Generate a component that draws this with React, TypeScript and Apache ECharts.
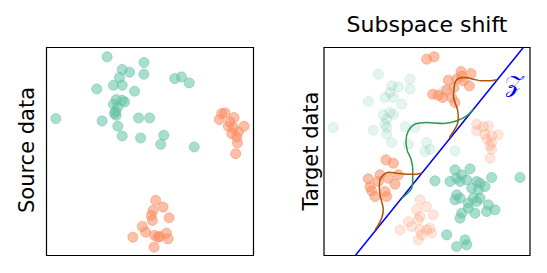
import React, { useEffect, useRef } from "react";
import * as echarts from "echarts";

// ---- Left panel: source data (arbitrary embedding units) ----
const sourceTeal: [number, number][] = [
  [181, 595], [291, 578], [226, 557], [248, 549], [291, 543], [218, 533], [200, 510], [226, 510],
  [150, 499], [263, 492], [383, 530], [403, 535], [426, 517], [208, 467], [226, 465], [200, 453],
  [213, 445], [206, 432], [208, 420], [28, 410], [166, 403], [275, 412], [308, 412], [213, 387],
  [226, 358], [281, 352], [350, 360], [341, 333], [441, 325], [233, 460], [203, 425],
];
const sourceOrange: [number, number][] = [
  [523, 425], [533, 427], [516, 407], [560, 413], [543, 387], [558, 383], [590, 387], [553, 365],
  [568, 355], [570, 337], [565, 305], [573, 370], [548, 400],
  [326, 165], [348, 145], [318, 135], [366, 113], [316, 105], [286, 87], [296, 70], [258, 55],
  [323, 60], [338, 57], [358, 67], [363, 50], [321, 25], [333, 55], [313, 120],
];

// ---- Right panel: target data ----
const targetOrange: [number, number][] = [
  [308, 589], [330, 596], [411, 552], [441, 546], [373, 526], [398, 529], [418, 524], [436, 509],
  [390, 504], [326, 484], [356, 474], [383, 474], [393, 459], [368, 496], [413, 538], [343, 481],
  [186, 287], [208, 277], [133, 230], [168, 242], [193, 232], [223, 242], [213, 214], [143, 194],
  [153, 177], [183, 192], [188, 177], [163, 222], [138, 206],
];
const targetOrangeFaint: [number, number][] = [
  [458, 394], [478, 386], [493, 389], [458, 374], [483, 364], [503, 359], [523, 362], [488, 349],
  [503, 339], [498, 329], [503, 319], [498, 292],
  [288, 167], [308, 147], [278, 137], [328, 122], [288, 117], [253, 102], [283, 107], [263, 87],
  [228, 77], [288, 77], [308, 77], [318, 82], [323, 67], [293, 62], [283, 47],
];
const targetTealFaint: [number, number][] = [
  [163, 544], [258, 529], [203, 509], [223, 506], [258, 499], [198, 489], [183, 474], [208, 474],
  [133, 462], [233, 454], [178, 422], [198, 429], [208, 424], [188, 409], [183, 394], [188, 384],
  [28, 384], [148, 376], [243, 386], [273, 384], [188, 364], [203, 339], [253, 334], [308, 339],
  [318, 319], [358, 494], [393, 314], [303, 312],
];
const targetTeal: [number, number][] = [
  [333, 224], [393, 257], [438, 260], [413, 242], [398, 232], [378, 222], [408, 222], [428, 227],
  [458, 222], [468, 217], [483, 207], [503, 234], [588, 234], [463, 197], [443, 202], [398, 182],
  [408, 172], [393, 167], [448, 172], [468, 172], [458, 162], [433, 157], [493, 152], [513, 137],
  [488, 132], [453, 127], [413, 127], [408, 112], [433, 142], [368, 62], [423, 47], [428, 32],
  [398, 27],
];

// Shared subspace Z (line) and the density profiles projected onto it
const subspaceZ: [number, number][] = [[94, 0], [598, 624]];
const densityUpper: [number, number][] = [
  [376, 354], [388, 372], [400, 394], [403, 414], [400, 439], [393, 459], [388, 479], [390, 499],
  [393, 519], [403, 531], [423, 534], [448, 529], [473, 524], [498, 524], [518, 527],
];
const densityLower: [number, number][] = [
  [153, 77], [163, 92], [173, 112], [178, 137], [173, 162], [168, 182], [166, 207], [168, 227],
  [178, 242], [193, 250], [218, 247], [248, 244], [273, 244], [293, 247],
];
const densityTeal: [number, number][] = [
  [448, 439], [428, 419], [398, 404], [358, 396], [308, 399], [273, 394], [253, 374], [246, 344],
  [250, 314], [260, 292], [266, 262], [266, 222], [262, 200], [250, 186], [234, 172],
];

const TEAL = "102,194,165";
const ORANGE = "252,141,98";

function scatter(data: [number, number][], rgb: string, alpha: number, idx: number, z: number) {
  return {
    type: "scatter",
    xAxisIndex: idx,
    yAxisIndex: idx,
    data,
    symbol: "circle",
    symbolSize: 10,
    z,
    silent: true,
    itemStyle: {
      color: `rgba(${rgb},${alpha})`,
      borderColor: `rgba(${rgb},${alpha})`,
      borderWidth: 1,
    },
  };
}

function curve(data: [number, number][], color: string, z: number, smooth: number | boolean) {
  return {
    type: "line",
    xAxisIndex: 1,
    yAxisIndex: 1,
    data,
    showSymbol: false,
    symbol: "none",
    smooth,
    z,
    silent: true,
    clip: true,
    lineStyle: { color, width: 1.5 },
  };
}

export default function App() {
  const ref = useRef<HTMLDivElement>(null);
  useEffect(() => {
    document.body.style.margin = "0";
    if (!ref.current) return;
    const chart = echarts.init(ref.current, undefined, { renderer: "svg" });
    const font = "DejaVu Sans";
    chart.setOption({
      animation: false,
      backgroundColor: "#fff",
      grid: [
        { left: 46.5, top: 47.5, width: 207, height: 208, show: true, borderColor: "#000", borderWidth: 1.2, backgroundColor: "transparent" },
        { left: 324, top: 47.5, width: 206, height: 208, show: true, borderColor: "#000", borderWidth: 1.2, backgroundColor: "transparent" },
      ],
      xAxis: [
        { type: "value", gridIndex: 0, min: 0, max: 618, show: false },
        { type: "value", gridIndex: 1, min: 0, max: 618, show: false },
      ],
      yAxis: [
        { type: "value", gridIndex: 0, min: 0, max: 623, show: false },
        { type: "value", gridIndex: 1, min: 0, max: 624, show: false },
      ],
      series: [
        scatter(sourceTeal, TEAL, 0.7, 0, 2),
        scatter(sourceOrange, ORANGE, 0.7, 0, 2),
        scatter(targetTealFaint, TEAL, 0.22, 1, 2),
        scatter(targetOrangeFaint, ORANGE, 0.28, 1, 2),
        scatter(targetTeal, TEAL, 0.7, 1, 3),
        scatter(targetOrange, ORANGE, 0.7, 1, 3),
        curve(subspaceZ, "#0000ff", 4, false),
        curve(densityTeal, "#2a9a4a", 5, 0.35),
        curve(densityUpper, "#b0530a", 6, 0.35),
        curve(densityLower, "#b0530a", 6, 0.35),
      ],
      graphic: [
        { type: "text", x: 27, y: 150, rotation: Math.PI / 2, style: { text: "Source data", fontSize: 21, fontFamily: font, fill: "#000", align: "center", verticalAlign: "middle" } },
        { type: "text", x: 311, y: 151, rotation: Math.PI / 2, style: { text: "Target data", fontSize: 21, fontFamily: font, fill: "#000", align: "center", verticalAlign: "middle" } },
        { type: "text", x: 427, y: 24, style: { text: "Subspace shift", fontSize: 22, fontFamily: font, fill: "#000", align: "center", verticalAlign: "middle" } },
        { type: "text", x: 514, y: 84, z: 10, style: { text: "𝒵", fontSize: 24, fontFamily: "DejaVu Serif, DejaVu Sans, serif", fill: "#0000ff", align: "center", verticalAlign: "middle" } },
      ],
    });
    return () => chart.dispose();
  }, []);
  return <div ref={ref} style={{ width: 547, height: 273 }} />;
}
